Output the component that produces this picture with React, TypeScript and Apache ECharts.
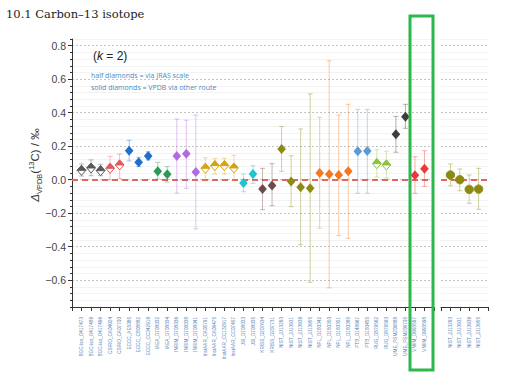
import React, { useEffect, useRef } from 'react';
import * as echarts from 'echarts';

const labsMain = [
  'BGC-iso_O417473', 'BGC-iso_O417489', 'BGC-iso_O417496', 'CSIRO_CA04924', 'CSIRO_CA07700',
  'ECCC_AE5085', 'ECCC_CB08882', 'ECCC_CC342919', 'IAEA_D708032', 'IAEA_D708034',
  'INRIM_D708036', 'INRIM_D708038', 'INRIM_D708041', 'InstAAR_CA05791', 'InstAAR_CA06475',
  'InstAAR_CC132917', 'InstAAR_CC07457', 'JSI_D708033', 'JSI_D708035', 'KRISS_D207634',
  'KRISS_D207731', 'NIST_JJ13293', 'NIST_JJ13931', 'NIST_JJ13939', 'NIST_JJ13955',
  'NPL_D180342', 'NPL_D180350', 'NPL_D180351', 'NPL_D180385', 'PTB_D148967',
  'PTB_D180455', 'RUG_D879562', 'RUG_D879563', 'UME_PSM206888', 'UME_PSM206705',
  'VNIIM_D993597', 'VNIIM_D993598',
];
const valuesMain = [
  0.056, 0.07, 0.054, 0.068, 0.088, 0.173, 0.104, 0.141, 0.05, 0.032,
  0.141, 0.155, 0.046, 0.068, 0.084, 0.084, 0.07, -0.02, 0.034, -0.056,
  -0.034, 0.183, -0.01, -0.045, -0.051, 0.04, 0.032, 0.028, 0.05, 0.17,
  0.171, 0.096, 0.088, 0.271, 0.376, 0.026, 0.066,
];
const upperMain = [
  0.094, 0.118, 0.092, 0.14, 0.153, 0.235, 0.134, 0.167, 0.104, 0.078,
  0.362, 0.355, 0.386, 0.131, 0.128, 0.128, 0.146, 0.034, 0.084, 0.068,
  0.096, 0.318, 0.143, 0.303, 0.512, 0.372, 0.71, 0.386, 0.45, 0.42,
  0.42, 0.179, 0.17, 0.378, 0.45, 0.137, 0.173,
];
const lowerMain = [
  0.022, 0.024, 0.024, 0.0, 0.008, 0.112, 0.078, 0.118, 0.004, -0.014,
  -0.08, -0.052, -0.294, -0.006, 0.034, 0.034, -0.006, -0.072, -0.022, -0.179,
  -0.155, 0.05, -0.161, -0.388, -0.613, -0.29, -0.646, -0.334, -0.35, -0.081,
  -0.081, 0.016, 0.01, 0.164, 0.307, -0.081, -0.04,
];
const halfLabs = ['BGC-iso', 'CSIRO', 'InstAAR', 'RUG'];

const labsSide = ['NIST_JJ13293', 'NIST_JJ13931', 'NIST_JJ13939', 'NIST_JJ13955'];
const valuesSide = [0.028, 0.0, -0.058, -0.056];
const upperSide = [0.094, 0.064, 0.028, 0.068];
const lowerSide = [-0.036, -0.066, -0.141, -0.177];

const yTickLabels = [-0.6, -0.4, -0.2, 0.0, 0.2, 0.4, 0.6, 0.8];

const labColors: Record<string, string> = {
  'BGC-iso': '#5a5a5a',
  CSIRO: '#e05a5a',
  ECCC: '#1f6fd1',
  IAEA: '#2e9a58',
  INRIM: '#b36ae2',
  InstAAR: '#d4a418',
  JSI: '#1fc4d0',
  KRISS: '#6e4b4b',
  NIST: '#8c8a12',
  NPL: '#f5781e',
  PTB: '#5b9bd5',
  RUG: '#8cc43c',
  UME: '#3d3d3d',
  VNIIM: '#e83a3a',
};

const Y_MIN = -0.76;
const Y_MAX = 0.84;

function labOf(name: string) {
  return name.split('_')[0];
}

function withAlpha(hex: string, a: number) {
  const r = parseInt(hex.slice(1, 3), 16);
  const g = parseInt(hex.slice(3, 5), 16);
  const b = parseInt(hex.slice(5, 7), 16);
  return `rgba(${r},${g},${b},${a})`;
}

function makeRender(names: string[], shape: 'diamond' | 'circle') {
  return (params: any, api: any) => {
    const x = api.value(0);
    const v = api.value(1);
    const lo = api.value(2);
    const hi = api.value(3);
    const p = api.coord([x, v]);
    const pl = api.coord([x, lo]);
    const ph = api.coord([x, hi]);
    const name = names[params.dataIndex];
    const lab = labOf(name);
    const col = labColors[lab] || '#888';
    const barCol = withAlpha(col, 0.4);
    const cw = 2.5;
    const children: any[] = [
      { type: 'line', shape: { x1: pl[0], y1: pl[1], x2: ph[0], y2: ph[1] }, style: { stroke: barCol, lineWidth: 1 } },
      { type: 'line', shape: { x1: ph[0] - cw, y1: ph[1], x2: ph[0] + cw, y2: ph[1] }, style: { stroke: barCol, lineWidth: 1 } },
      { type: 'line', shape: { x1: pl[0] - cw, y1: pl[1], x2: pl[0] + cw, y2: pl[1] }, style: { stroke: barCol, lineWidth: 1 } },
    ];
    if (shape === 'circle') {
      children.push({ type: 'circle', shape: { cx: p[0], cy: p[1], r: 4.2 }, style: { fill: col, stroke: withAlpha(col, 0.9), lineWidth: 1 } });
    } else {
      const w = 4.3, h = 5;
      const top = [p[0], p[1] - h], right = [p[0] + w, p[1]], bot = [p[0], p[1] + h], left = [p[0] - w, p[1]];
      if (halfLabs.includes(lab)) {
        children.push({ type: 'polygon', shape: { points: [top, right, bot, left] }, style: { fill: '#ffffff', stroke: col, lineWidth: 1 } });
        children.push({ type: 'polygon', shape: { points: [top, right, left] }, style: { fill: col, stroke: col, lineWidth: 1 } });
      } else {
        children.push({ type: 'polygon', shape: { points: [top, right, bot, left] }, style: { fill: col } });
      }
    }
    return { type: 'group', children };
  };
}

export default function App() {
  const ref = useRef<HTMLDivElement>(null);
  useEffect(() => {
    if (!ref.current) return;
    const chart = echarts.init(ref.current, null, { renderer: 'svg' });
    const minorVals: number[] = [];
    for (let i = -19; i <= 21; i++) {
      const val = +(i * 0.04).toFixed(2);
      if (!yTickLabels.some((t) => Math.abs(t - val) < 1e-6)) minorVals.push(val);
    }
    const fmt = (v: number) => (v < 0 ? '\u2212' + Math.abs(v).toFixed(1) : v.toFixed(1));
    const majorY = (gridIndex: number, showAxis: boolean) => ({
      type: 'value', gridIndex, min: Y_MIN, max: Y_MAX, position: 'left', offset: 0,
      axisLine: { show: showAxis, onZero: false, lineStyle: { color: '#333', width: 1 } },
      axisTick: { show: showAxis, length: 4, customValues: yTickLabels, lineStyle: { color: '#333' } },
      axisLabel: { show: showAxis, customValues: yTickLabels, formatter: fmt, fontSize: 10.5, color: '#444', fontFamily: 'Liberation Sans, Arial, sans-serif', margin: 6 },
      splitLine: { show: true, lineStyle: { color: '#c4c4c4', type: [2, 2], width: 1 } },
    });
    const minorY = (gridIndex: number, showAxis: boolean) => ({
      type: 'value', gridIndex, min: Y_MIN, max: Y_MAX, position: 'left', offset: 0,
      axisLine: { show: false },
      axisTick: { show: showAxis, length: 2, customValues: minorVals, lineStyle: { color: '#333' } },
      axisLabel: { show: false },
      splitLine: { show: true, lineStyle: { color: '#f3f3f3', width: 1 } },
    });
    const xAx = (gridIndex: number, max: number, names: string[]) => ({
      type: 'value', gridIndex, min: 0, max, interval: 1,
      axisLine: { show: true, onZero: false, lineStyle: { color: '#333', width: 1 } },
      axisTick: { show: true, length: 4, lineStyle: { color: '#333' } },
      splitLine: { show: false },
      axisLabel: {
        rotate: 90, fontSize: 4.7, color: '#5b86b8', margin: 10,
        fontFamily: "'Liberation Sans', sans-serif",
        showMinLabel: true, showMaxLabel: true,
        formatter: (v: number) => names[Math.round(v) - 1] || '',
      },
    });
    const zeroLine = (xi: number, yi: number) => ({
      type: 'line', xAxisIndex: xi, yAxisIndex: yi, data: [], silent: true,
      markLine: {
        symbol: 'none', silent: true, label: { show: false },
        lineStyle: { color: '#e06666', type: [6, 4], width: 1.8 },
        data: [{ yAxis: 0 }],
      },
    });
    chart.setOption({
      animation: false,
      grid: [
        { left: 72, top: 39, width: 362, height: 268 },
        { left: 441, top: 39, width: 47, height: 268 },
      ],
      xAxis: [xAx(0, 38, labsMain), xAx(1, 5, labsSide)],
      yAxis: [majorY(0, true), minorY(0, true), majorY(1, false), minorY(1, false)],
      series: [
        zeroLine(0, 0),
        zeroLine(1, 2),
        {
          type: 'custom', xAxisIndex: 0, yAxisIndex: 0,
          renderItem: makeRender(labsMain, 'diamond'),
          encode: { x: 0, y: 1 },
          data: labsMain.map((_, i) => [i + 1, valuesMain[i], lowerMain[i], upperMain[i]]),
          z: 5,
        },
        {
          type: 'custom', xAxisIndex: 1, yAxisIndex: 2,
          renderItem: makeRender(labsSide, 'circle'),
          encode: { x: 0, y: 1 },
          data: labsSide.map((_, i) => [i + 1, valuesSide[i], lowerSide[i], upperSide[i]]),
          z: 5,
        },
      ],
      graphic: [
        {
          type: 'text', left: 6, top: 8, z: 100,
          style: { text: '10.1 Carbon\u201313 isotope', fontSize: 11.5, fontFamily: "'DejaVu Serif', serif", fill: '#222' },
        },
        {
          type: 'text', x: 93, y: 50, z: 100,
          style: {
            text: '{n|(}{i|k}{n| = 2)}',
            rich: {
              n: { fontSize: 12, fontFamily: 'Liberation Sans, Arial, sans-serif', fill: '#222', fontStyle: 'normal' },
              i: { fontSize: 12, fontStyle: 'italic', fontFamily: 'Liberation Sans, Arial, sans-serif', fill: '#222' },
            },
          },
        },
        {
          type: 'text', x: 91, y: 72, z: 100,
          style: { text: 'half diamonds = via JRAS scale', fontSize: 7, fontFamily: "'Open Sans', sans-serif", fill: '#4a8ac4' },
        },
        {
          type: 'text', x: 91, y: 84, z: 100,
          style: { text: 'solid diamonds = VPDB via other route', fontSize: 7, fontFamily: "'Open Sans', sans-serif", fill: '#4a8ac4' },
        },
        {
          type: 'text', x: 35, y: 165, rotation: Math.PI / 2, z: 100,
          style: {
            text: '{i|\u0394}{s|VPDB}{n|(}{p|13}{n|C) / \u2030}',
            align: 'center', verticalAlign: 'middle',
            rich: {
              i: { fontSize: 11.5, fontStyle: 'italic', fontFamily: 'Liberation Sans, Arial, sans-serif', fill: '#333', lineHeight: 16, verticalAlign: 'middle' },
              n: { fontSize: 11.5, fontFamily: 'Liberation Sans, Arial, sans-serif', fill: '#333', lineHeight: 16, verticalAlign: 'middle' },
              s: { fontSize: 7.5, fontFamily: 'Liberation Sans, Arial, sans-serif', fill: '#333', verticalAlign: 'bottom', lineHeight: 8 },
              p: { fontSize: 7.5, fontFamily: 'Liberation Sans, Arial, sans-serif', fill: '#333', verticalAlign: 'top', lineHeight: 8 },
            },
          },
        },
        {
          type: 'rect', shape: { x: 410, y: 16, width: 23, height: 354 },
          style: { fill: 'none', stroke: '#2db84d', lineWidth: 3 }, z: 100,
        },
      ],
    } as any);
    return () => chart.dispose();
  }, []);
  return <div ref={ref} style={{ position: 'fixed', left: 0, top: 0, width: 510, height: 376, background: '#fff' }} />;
}
